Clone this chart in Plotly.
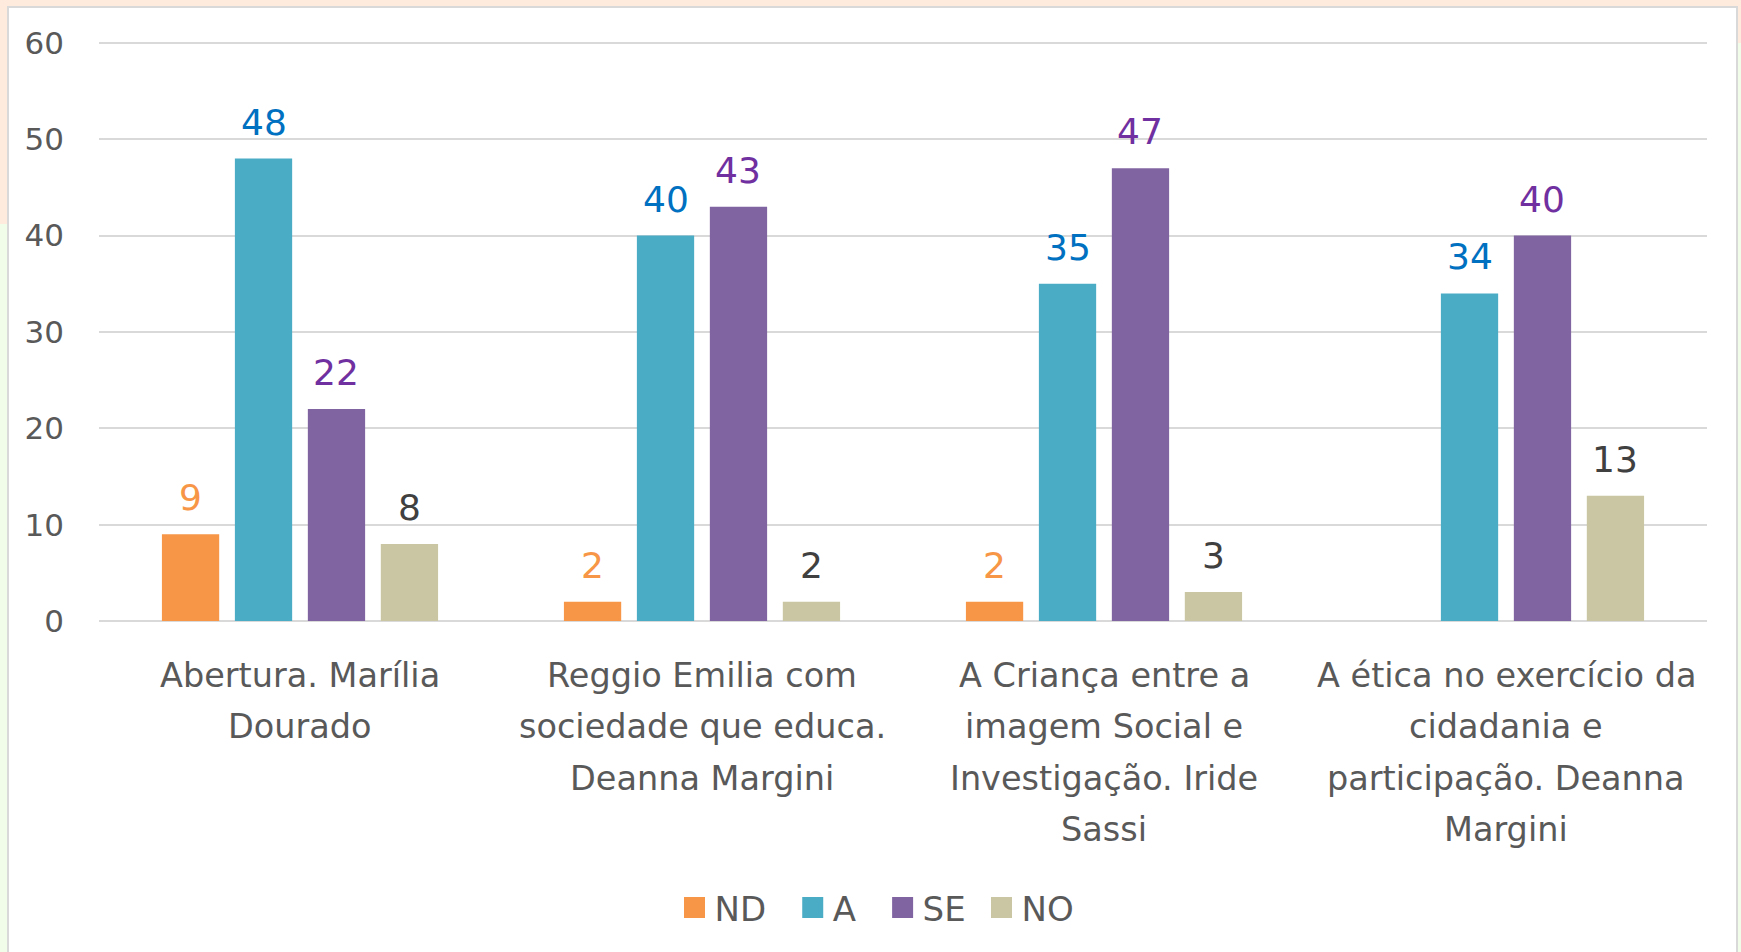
import plotly.graph_objects as go

# ---- data ----
categories = [
    "Abertura. Marília Dourado",
    "Reggio Emilia com sociedade que educa. Deanna Margini",
    "A Criança entre a imagem Social e Investigação. Iride Sassi",
    "A ética no exercício da cidadania e participação. Deanna Margini",
]
category_lines = [
    ["Abertura. Marília", "Dourado"],
    ["Reggio Emilia com", "sociedade que educa.", "Deanna Margini"],
    ["A Criança entre a", "imagem Social e", "Investigação. Iride", "Sassi"],
    ["A ética no exercício da", "cidadania e", "participação. Deanna", "Margini"],
]
series_names = ["ND", "A", "SE", "NO"]
nd_values = [9, 2, 2, None]
a_values = [48, 40, 35, 34]
se_values = [22, 43, 47, 40]
no_values = [8, 2, 3, 13]
y_ticks = [0, 10, 20, 30, 40, 50, 60]

series_values = [nd_values, a_values, se_values, no_values]
bar_colors = ["#F79646", "#4BACC6", "#8064A2", "#CAC5A3"]
label_colors = ["#F79646", "#0070C0", "#7030A0", "#404040"]

FONT = "DejaVu Sans"
GREY = "#595959"
BARGAP = 0.274
BARGROUPGAP = 0.215

fig = go.Figure()
for name, vals, bc in zip(series_names, series_values, bar_colors):
    fig.add_trace(go.Bar(
        x=categories, y=vals, name=name,
        marker=dict(color=bc, line=dict(width=0)),
        showlegend=False, hoverinfo="skip",
    ))

# legend proxies (bigger square symbols); nbsp padding mimics the wider entry spacing
NB = "\u00a0"
legend_labels = [series_names[0] + NB * 2, series_names[1] + NB * 2, series_names[2] + NB, series_names[3]]
for lab, bc in zip(legend_labels, bar_colors):
    fig.add_trace(go.Scatter(
        x=[None], y=[None], mode="markers", name=lab,
        marker=dict(symbol="square", size=24, color=bc, line=dict(color=bc, width=5)),
        hoverinfo="skip",
    ))

# geometry helpers (pixel -> paper)
W, H = 1741, 952
L, R, T, B = 99, 34, 41, 331
pw, ph = W - L - R, H - T - B
def px(x):
    return (x - L) / pw
def py(y):
    return (H - B - y) / ph

shapes = [
    dict(type="rect", xref="paper", yref="paper", x0=px(0), x1=px(W), y0=py(0), y1=py(43),
         fillcolor="#FEEBDD", line=dict(width=0), layer="below"),
    dict(type="rect", xref="paper", yref="paper", x0=px(0), x1=px(8), y0=py(43), y1=py(224),
         fillcolor="#FEEBDD", line=dict(width=0), layer="below"),
    dict(type="rect", xref="paper", yref="paper", x0=px(8), x1=px(1737), y0=py(7), y1=py(H + 10),
         fillcolor="white", line=dict(color="#D9D9D9", width=2), layer="below"),
]

annotations = []
# data labels, placed at each bar's slot centre within the group
n_series = len(series_names)
slot = (1 - BARGAP) / n_series
for si, (vals, lc) in enumerate(zip(series_values, label_colors)):
    for ci, v in enumerate(vals):
        if v is None:
            continue
        annotations.append(dict(
            x=ci + (si - (n_series - 1) / 2) * slot, xref="x", y=v, yref="y",
            yanchor="bottom", xanchor="center", yshift=14, text=str(v), showarrow=False,
            font=dict(family=FONT, size=36, color=lc),
        ))
# category labels, one line each
for cat, lines in zip(categories, category_lines):
    for i, line in enumerate(lines):
        annotations.append(dict(
            x=cat, xref="x", y=0, yref="paper", yanchor="middle", xanchor="center",
            yshift=-(54 + 51.5 * i), text=line, showarrow=False,
            font=dict(family=FONT, size=33.5, color=GREY),
        ))

fig.update_layout(
    width=W, height=H,
    margin=dict(l=L, r=R, t=T, b=B, pad=0),
    paper_bgcolor="#F1FDE8", plot_bgcolor="white",
    barmode="group", bargap=BARGAP, bargroupgap=BARGROUPGAP,
    font=dict(family=FONT, color=GREY),
    shapes=shapes, annotations=annotations,
    legend=dict(orientation="h", x=px(877), xanchor="center", y=py(908), yanchor="middle",
                font=dict(family=FONT, size=34, color=GREY), bgcolor="rgba(0,0,0,0)",
                itemclick=False, itemdoubleclick=False),
    xaxis=dict(categoryorder="array", categoryarray=categories, showticklabels=False,
               showgrid=False, zeroline=False, showline=False, ticks=""),
    yaxis=dict(range=[0, 60.2], tickvals=y_ticks, showgrid=True, gridcolor="#D9D9D9", gridwidth=1.5,
               zeroline=True, zerolinecolor="#D9D9D9", zerolinewidth=1.5, showline=False, ticks="",
               tickfont=dict(family=FONT, size=31, color=GREY), ticklabelstandoff=34),
)

fig.write_html("out.html", config={"displayModeBar": False},
               post_script="document.body.style.margin='0';document.body.style.overflow='hidden';")
